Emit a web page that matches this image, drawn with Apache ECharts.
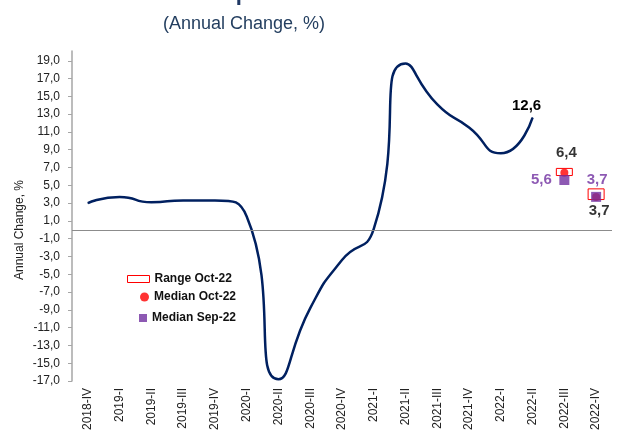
<!DOCTYPE html>
<html>
<head>
<meta charset="utf-8">
<script src="https://cdn.jsdelivr.net/npm/echarts@6/dist/echarts.min.js"></script>
<style>
    html, body { margin: 0; padding: 0; background: #fff; }
    #container { width: 620px; height: 436px; }
</style>
</head>
<body>
<div id="container"></div>
<script type="text/javascript">
    // quarters on the x axis
    var quarters = ['2018-IV', '2019-I', '2019-II', '2019-III', '2019-IV', '2020-I', '2020-II', '2020-III',
        '2020-IV', '2021-I', '2021-II', '2021-III', '2021-IV', '2022-I', '2022-II', '2022-III', '2022-IV'];
    // observed annual GDP change
    var gdpObserved = [3.0, 3.7, 3.1, 3.3, 3.3, 1.5, -16.8, -8.8, -3.4, 0.1, 18.7, 14.1, 11.5, 8.6, 12.6, null, null];
    // survey, October 2022: [quarter index, low, high]
    var rangeOct = [[15, 6.1, 6.9], [16, 3.4, 4.6]];
    var medianOct = [[15, 6.4], [16, 3.7]];
    var medianSep = [[15, 5.6], [16, 3.7]];
    // y axis ticks
    var yTicks = [-17, -15, -13, -11, -9, -7, -5, -3, -1, 1, 3, 5, 7, 9, 11, 13, 15, 17, 19];

    var fmt = function (v) { return v.toFixed(1).replace('.', ','); };
    var lastIdx = 14;

    var dom = document.getElementById('container');
    var myChart = echarts.init(dom, null, {renderer: 'canvas'});

    var option = {
        backgroundColor: '#ffffff',
        animation: false,
        textStyle: {fontFamily: 'Liberation Sans, Arial, sans-serif'},
        title: [{
            text: 'GDP Expectations',
            left: 150,
            top: -22,
            textStyle: {fontSize: 22, fontWeight: 'bold', color: '#1F3864'}
        }, {
            text: '(Annual Change, %)',
            left: 158,
            top: 10,
            textStyle: {fontSize: 18, fontWeight: 'normal', color: '#243F60'}
        }],
        graphic: [{
            type: 'text',
            x: 20,
            y: 230,
            rotation: Math.PI / 2,
            style: {
                text: 'Annual Change, %',
                fill: '#222',
                font: '12px Liberation Sans, Arial, sans-serif',
                align: 'center',
                verticalAlign: 'middle'
            }
        }],
        legend: [{
            left: 122,
            top: 268,
            icon: 'rect',
            itemWidth: 22,
            itemHeight: 7,
            itemGap: 0,
            data: [{name: 'Range Oct-22', itemStyle: {color: '#fff', borderColor: '#FF0000', borderWidth: 1}}],
            textStyle: {fontSize: 12, fontWeight: 'bold', color: '#111'},
            selectedMode: false
        }, {
            left: 135,
            top: 286,
            icon: 'circle',
            itemWidth: 9,
            itemHeight: 9,
            data: ['Median Oct-22'],
            textStyle: {fontSize: 12, fontWeight: 'bold', color: '#111'},
            selectedMode: false
        }, {
            left: 134,
            top: 307,
            icon: 'rect',
            itemWidth: 8,
            itemHeight: 8,
            data: ['Median Sep-22'],
            textStyle: {fontSize: 12, fontWeight: 'bold', color: '#111'},
            selectedMode: false
        }],
        grid: {left: 72, right: 8, top: 51, bottom: 55, containLabel: false},
        xAxis: {
            type: 'category',
            data: quarters,
            boundaryGap: true,
            axisLine: {show: false},
            axisTick: {show: false},
            axisLabel: {rotate: 90, fontSize: 12, color: '#222', margin: 7, interval: 0}
        },
        yAxis: {
            type: 'value',
            min: -17,
            max: 20.1,
            splitLine: {show: false},
            axisLine: {show: true, lineStyle: {color: '#A6A6A6', width: 1.5}},
            axisTick: {show: true, length: 4, customValues: yTicks, lineStyle: {color: '#A6A6A6'}},
            axisLabel: {
                customValues: yTicks,
                fontSize: 12,
                color: '#222',
                margin: 12,
                formatter: function (v) { return fmt(v); }
            }
        },
        series: [{
            name: 'GDP',
            type: 'line',
            smooth: 0.6,
            showSymbol: true,
            symbol: 'circle',
            symbolSize: 1,
            itemStyle: {color: '#002060'},
            lineStyle: {color: '#002060', width: 2.5},
            data: gdpObserved.map(function (v, i) {
                if (i === lastIdx) {
                    return {
                        value: v,
                        label: {
                            show: true, position: 'top', offset: [-6, 1],
                            fontSize: 15, fontWeight: 'bold', color: '#000',
                            formatter: function (p) { return fmt(p.value); }
                        }
                    };
                }
                return v;
            }),
            markLine: {
                silent: true,
                symbol: 'none',
                label: {show: false},
                lineStyle: {color: '#8C8C8C', width: 1, type: 'solid'},
                data: [{yAxis: 0}]
            },
            z: 2
        }, {
            name: 'Range Oct-22',
            type: 'custom',
            data: rangeOct,
            itemStyle: {color: '#fff', borderColor: '#FF0000'},
            renderItem: function (params, api) {
                var lo = api.coord([api.value(0), api.value(1)]);
                var hi = api.coord([api.value(0), api.value(2)]);
                var w = 16;
                return {
                    type: 'rect',
                    shape: {x: lo[0] - w / 2, y: hi[1], width: w, height: lo[1] - hi[1]},
                    style: {fill: '#fff', stroke: '#FF0000', lineWidth: 1}
                };
            },
            z: 3
        }, {
            name: 'Median Oct-22',
            type: 'scatter',
            symbol: 'circle',
            symbolSize: 8,
            itemStyle: {color: '#FF0000'},
            data: medianOct,
            label: {
                show: true,
                fontSize: 15,
                fontWeight: 'bold',
                color: '#000',
                formatter: function (p) { return fmt(p.value[1]); }
            },
            labelLayout: function (params) {
                return params.dataIndex === 0 ? {dx: 2, dy: -20} : {dx: 3, dy: 14};
            },
            z: 4
        }, {
            name: 'Median Sep-22',
            type: 'scatter',
            symbol: 'rect',
            symbolSize: 10,
            itemStyle: {color: '#7030A0'},
            data: medianSep,
            label: {
                show: true,
                fontSize: 15,
                fontWeight: 'bold',
                color: '#7030A0',
                formatter: function (p) { return fmt(p.value[1]); }
            },
            labelLayout: function (params) {
                return params.dataIndex === 0 ? {dx: -23, dy: 0} : {dx: 1, dy: -17};
            },
            z: 5
        }]
    };

    myChart.setOption(option);
</script>
</body>
</html>
